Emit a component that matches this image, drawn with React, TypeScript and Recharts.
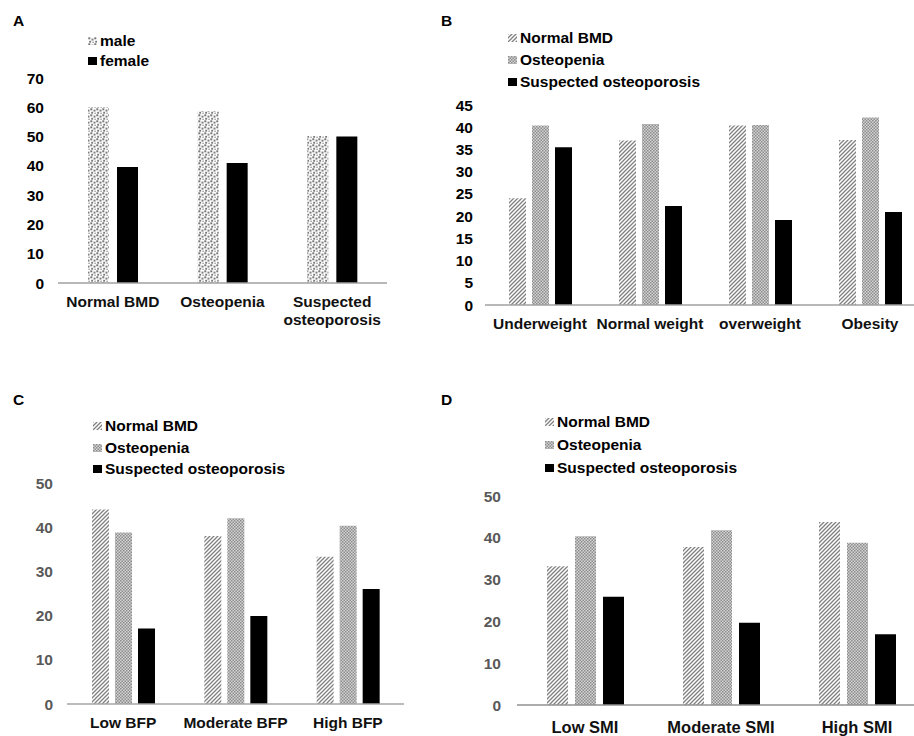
import { Bar, BarChart, XAxis, YAxis } from 'recharts'

// panel A: sex
const sexCategories = ['Normal BMD', 'Osteopenia', 'Suspected osteoporosis']
const maleValues = [60, 58.7, 50.2]
const femaleValues = [39.6, 41, 50]
const sexTicks = [0, 10, 20, 30, 40, 50, 60, 70]

// panel B: BMI
const bmiCategories = ['Underweight', 'Normal weight', 'overweight', 'Obesity']
const bmiNormal = [24, 37, 40.4, 37.1]
const bmiOsteopenia = [40.4, 40.7, 40.5, 42.2]
const bmiSuspected = [35.5, 22.3, 19.1, 20.9]
const bmiTicks = [0, 5, 10, 15, 20, 25, 30, 35, 40, 45]

// panel C: body fat percentage
const bfpCategories = ['Low BFP', 'Moderate BFP', 'High BFP']
const bfpNormal = [44, 38, 33.3]
const bfpOsteopenia = [38.8, 42, 40.3]
const bfpSuspected = [17.1, 19.9, 26]

// panel D: skeletal muscle index
const smiCategories = ['Low SMI', 'Moderate SMI', 'High SMI']
const smiNormal = [33.2, 37.8, 43.8]
const smiOsteopenia = [40.4, 41.8, 38.8]
const smiSuspected = [25.9, 19.7, 16.9]
const tens = [0, 10, 20, 30, 40, 50]

const font = '"Liberation Sans", Arial, sans-serif'

const sexData = sexCategories.map((name, i) => ({ name, male: maleValues[i], female: femaleValues[i] }))
const toRows = (cats: string[], a: number[], b: number[], c: number[]) =>
  cats.map((name, i) => ({ name, normal: a[i], osteopenia: b[i], suspected: c[i] }))
const bmiData = toRows(bmiCategories, bmiNormal, bmiOsteopenia, bmiSuspected)
const bfpData = toRows(bfpCategories, bfpNormal, bfpOsteopenia, bfpSuspected)
const smiData = toRows(smiCategories, smiNormal, smiOsteopenia, smiSuspected)

function Patterns() {
  return (
    <svg width={0} height={0} style={{ position: 'absolute' }}>
      <defs>
        <pattern id="patDots" width={6} height={6} patternUnits="userSpaceOnUse">
          <rect width={6} height={6} fill="#fff" />
          <rect x={0.3} y={0.3} width={2} height={2} fill="#777" />
          <rect x={3.5} y={1.6} width={2} height={2} fill="#808080" />
          <rect x={1.2} y={3.8} width={1.9} height={1.9} fill="#7a7a7a" />
          <rect x={4.4} y={4.6} width={1.4} height={1.4} fill="#999" />
        </pattern>
        <pattern id="patDiag" width={4} height={4} patternUnits="userSpaceOnUse">
          <rect width={4} height={4} fill="#fff" />
          <path d="M-1,1 l2,-2 M0,4 l4,-4 M3,5 l2,-2" stroke="#808080" strokeWidth={1.3} />
        </pattern>
        <pattern id="patCheck" width={3} height={3} patternUnits="userSpaceOnUse">
          <rect width={3} height={3} fill="#d4d4d4" />
          <rect x={0} y={0} width={1.5} height={1.5} fill="#8c8c8c" />
          <rect x={1.5} y={1.5} width={1.5} height={1.5} fill="#8c8c8c" />
        </pattern>
      </defs>
    </svg>
  )
}

function CatTick(props: any) {
  const { x, y, payload, wrap, dy, size } = props
  const lines: string[] = wrap && payload.value.length > 14 ? payload.value.split(' ') : [payload.value]
  return (
    <text x={x} y={y} textAnchor="middle" fontSize={size} fontWeight="bold" fill="#111" fontFamily={font}>
      {lines.map((l, i) => (
        <tspan key={i} x={x} dy={i === 0 ? dy : 18}>
          {l}
        </tspan>
      ))}
    </text>
  )
}

function LegendList({ left, top, gap, items }: { left: number; top: number; gap: number; items: [string, string][] }) {
  return (
    <div style={{ position: 'absolute', left, top }}>
      {items.map(([fill, label], i) => (
        <div
          key={label}
          style={{
            position: 'absolute',
            top: i * gap,
            left: 0,
            display: 'flex',
            alignItems: 'center',
            whiteSpace: 'nowrap',
            height: 16,
          }}
        >
          <svg width={9} height={8} style={{ marginRight: 3 }}>
            <rect width={9} height={8} fill={fill} />
          </svg>
          <span style={{ fontSize: 15.5, fontWeight: 'bold', color: '#000', lineHeight: '16px' }}>{label}</span>
        </div>
      ))}
    </div>
  )
}

const panelLabel = (text: string, left: number, top: number) => (
  <div style={{ position: 'absolute', left, top, fontSize: 15.5, fontWeight: 'bold', lineHeight: '16px' }}>{text}</div>
)

const threeSeries: [string, string][] = [
  ['url(#patDiag)', 'Normal BMD'],
  ['url(#patCheck)', 'Osteopenia'],
  ['#000', 'Suspected osteoporosis'],
]

export default function App() {
  const yTick = (fill: string) => ({ fontSize: 15.5, fontWeight: 'bold', fill, fontFamily: font })
  return (
    <div
      style={{
        position: 'absolute',
        left: 0,
        top: 0,
        width: 914,
        height: 736,
        overflow: 'hidden',
        background: '#fff',
        fontFamily: font,
      }}
    >
      <Patterns />

      {panelLabel('A', 13, 13)}
      <LegendList left={88} top={33} gap={20} items={[['url(#patDots)', 'male'], ['#000', 'female']]} />
      <div style={{ position: 'absolute', left: 0, top: 0 }}>
        <BarChart width={400} height={340} data={sexData} margin={{ top: 78, right: 13, left: 28, bottom: 17 }} barSize={21} barGap={8}>
          <XAxis
            dataKey="name"
            height={40}
            stroke="#a0a0a0"
            strokeWidth={1.5}
            tickLine={false}
            tickSize={0}
            tickMargin={0}
            interval={0}
            tick={<CatTick wrap dy={24} size={15.5} />}
          />
          <YAxis width={30} domain={[0, 70]} ticks={sexTicks} interval={0} axisLine={false} tickLine={false} tickSize={0} tickMargin={14} tick={yTick('#000')} />
          <Bar dataKey="male" fill="url(#patDots)" isAnimationActive={false} />
          <Bar dataKey="female" fill="#000" isAnimationActive={false} />
        </BarChart>
      </div>

      {panelLabel('B', 441, 13)}
      <LegendList left={508} top={30} gap={22} items={threeSeries} />
      <div style={{ position: 'absolute', left: 440, top: 0 }}>
        <BarChart width={500} height={340} data={bmiData} margin={{ top: 105, right: 15, left: 15, bottom: 5 }} barSize={17} barGap={6}>
          <XAxis
            dataKey="name"
            height={30}
            stroke="#a0a0a0"
            strokeWidth={1.5}
            tickLine={false}
            tickSize={0}
            tickMargin={0}
            interval={0}
            tick={<CatTick dy={24} size={15.5} />}
          />
          <YAxis width={30} domain={[0, 45]} ticks={bmiTicks} interval={0} axisLine={false} tickLine={false} tickSize={0} tickMargin={12} tick={yTick('#000')} />
          <Bar dataKey="normal" fill="url(#patDiag)" isAnimationActive={false} />
          <Bar dataKey="osteopenia" fill="url(#patCheck)" isAnimationActive={false} />
          <Bar dataKey="suspected" fill="#000" isAnimationActive={false} />
        </BarChart>
      </div>

      {panelLabel('C', 13, 392)}
      <LegendList left={93} top={418} gap={21.5} items={threeSeries} />
      <div style={{ position: 'absolute', left: 0, top: 370 }}>
        <BarChart width={420} height={366} data={bfpData} margin={{ top: 113, right: 16, left: 37, bottom: 2 }} barSize={17} barGap={6}>
          <XAxis
            dataKey="name"
            height={30}
            stroke="#a6a6a6"
            strokeWidth={1.5}
            tickLine={false}
            tickSize={0}
            tickMargin={0}
            interval={0}
            tick={<CatTick dy={24} size={15.5} />}
          />
          <YAxis width={30} domain={[0, 50]} ticks={tens} interval={0} axisLine={false} tickLine={false} tickSize={0} tickMargin={14} tick={yTick('#595959')} />
          <Bar dataKey="normal" fill="url(#patDiag)" isAnimationActive={false} />
          <Bar dataKey="osteopenia" fill="url(#patCheck)" isAnimationActive={false} />
          <Bar dataKey="suspected" fill="#000" isAnimationActive={false} />
        </BarChart>
      </div>

      {panelLabel('D', 441, 392)}
      <LegendList left={545} top={414} gap={23} items={threeSeries} />
      <div style={{ position: 'absolute', left: 440, top: 370 }}>
        <BarChart width={500} height={366} data={smiData} margin={{ top: 126, right: 15, left: 47, bottom: 1 }} barSize={21} barGap={7}>
          <XAxis
            dataKey="name"
            height={30}
            stroke="#909090"
            strokeWidth={1.5}
            tickLine={false}
            tickSize={0}
            tickMargin={0}
            interval={0}
            tick={<CatTick dy={28} size={16.5} />}
          />
          <YAxis width={30} domain={[0, 50]} ticks={tens} interval={0} axisLine={false} tickLine={false} tickSize={0} tickMargin={16} tick={yTick('#595959')} />
          <Bar dataKey="normal" fill="url(#patDiag)" isAnimationActive={false} />
          <Bar dataKey="osteopenia" fill="url(#patCheck)" isAnimationActive={false} />
          <Bar dataKey="suspected" fill="#000" isAnimationActive={false} />
        </BarChart>
      </div>
    </div>
  )
}
